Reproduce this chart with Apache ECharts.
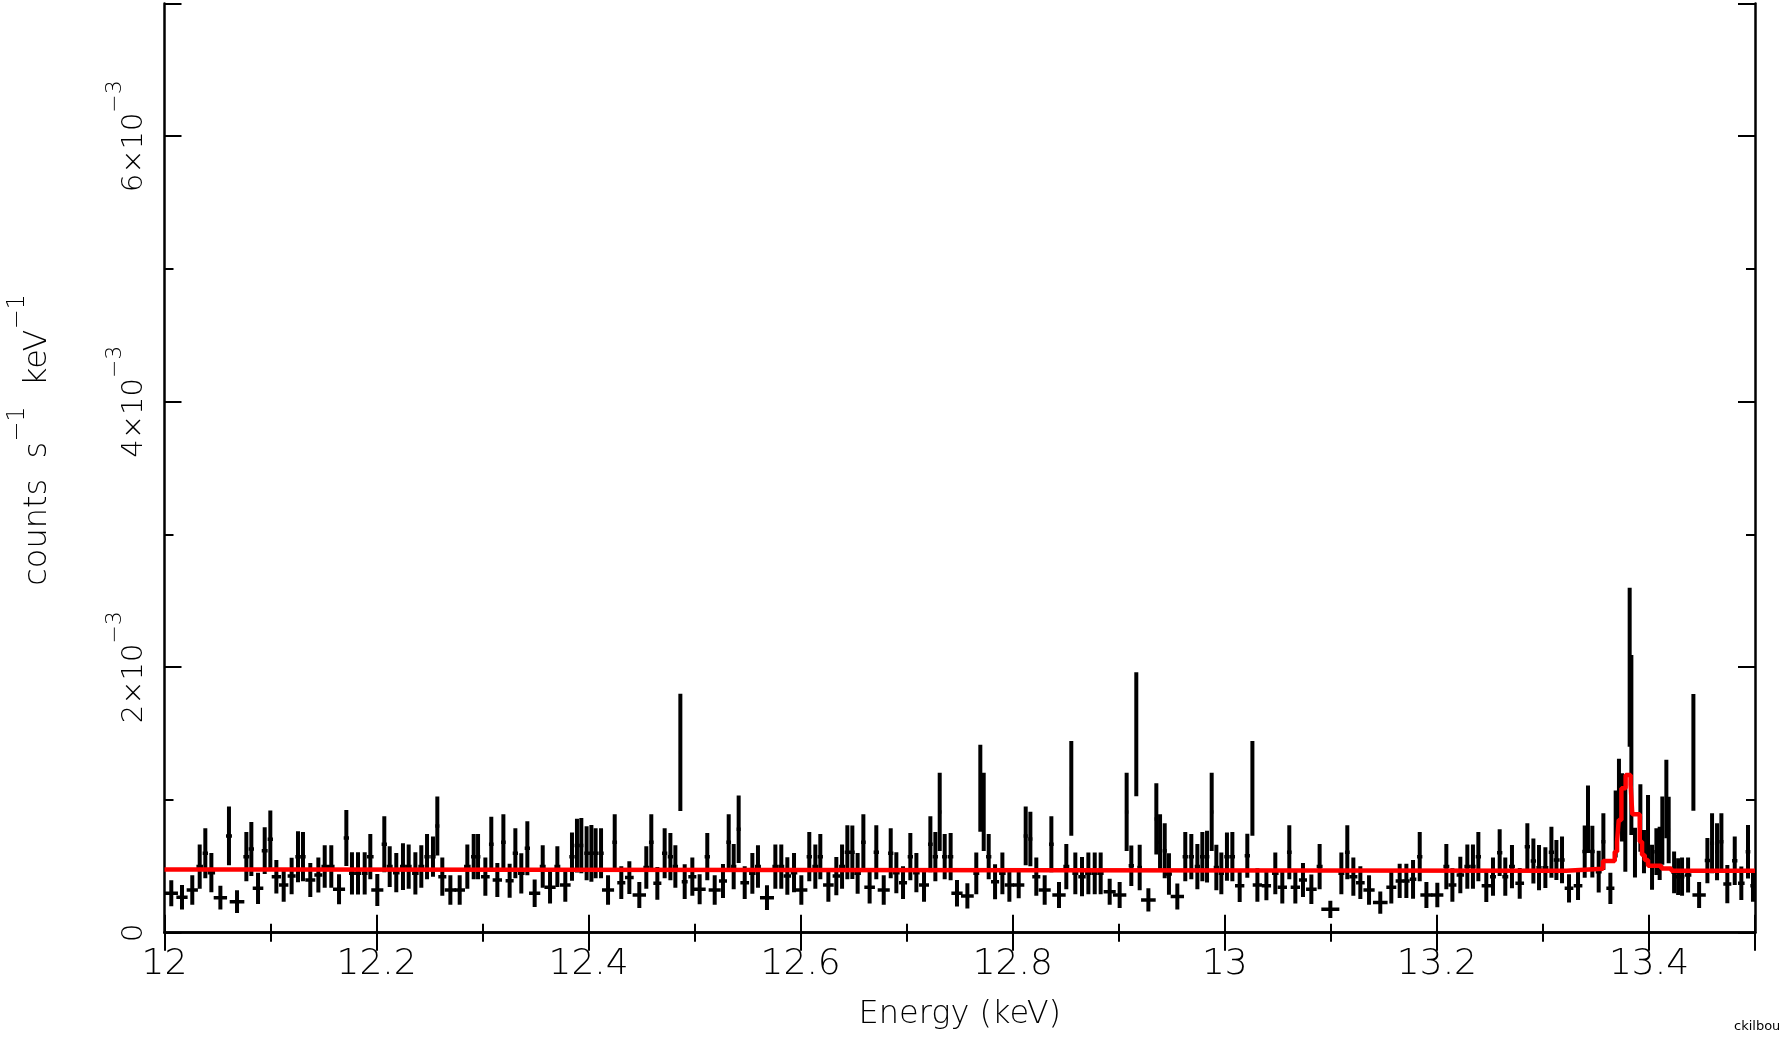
<!DOCTYPE html>
<html>
<head>
<meta charset="utf-8">
<script src="https://cdn.jsdelivr.net/npm/echarts@6/dist/echarts.min.js"></script>
<style>
html, body { margin: 0; padding: 0; background: #fff; }
#spectrum { width: 1779px; height: 1038px; }
</style>
</head>
<body>
<div id="spectrum"></div>
<script>
// grouped spectrum: bin centre (keV), half width (keV), rate and 1-sigma error (units of 1e-3 counts s^-1 keV^-1)
const energy = [
  12.0064, 12.0165, 12.0262, 12.0332, 12.0385, 12.0442, 12.0527, 12.0608, 12.0684, 12.0772,
  12.0819, 12.0882, 12.0945, 12.0998, 12.1055, 12.1124, 12.1199, 12.1259, 12.1306, 12.1375,
  12.1451, 12.1511, 12.1573, 12.1646, 12.1715, 12.1768, 12.1825, 12.1888, 12.1941, 12.2007,
  12.2073, 12.2124, 12.2186, 12.2249, 12.2303, 12.2366, 12.2422, 12.2476,
  12.2532, 12.2573, 12.2620, 12.2696, 12.2784, 12.2856, 12.2916, 12.2957, 12.3026, 12.3082,
  12.3139, 12.3196, 12.3255, 12.3309, 12.3365, 12.3422, 12.3491, 12.3567, 12.3636, 12.3705,
  12.3780, 12.3843, 12.3890, 12.3931, 12.3981, 12.4026, 12.4066, 12.4117, 12.4183, 12.4246,
  12.4308, 12.4384, 12.4478, 12.4544, 12.4591, 12.4648, 12.4717, 12.4771, 12.4818, 12.4865,
  12.4906, 12.4978,
  12.5047, 12.5119, 12.5189, 12.5267, 12.5321, 12.5368, 12.5415, 12.5472, 12.5544, 12.5597,
  12.5682, 12.5761, 12.5817, 12.5874, 12.5937, 12.6006, 12.6081, 12.6138, 12.6185, 12.6261,
  12.6336, 12.6390, 12.6440, 12.6487, 12.6537, 12.6591, 12.6650, 12.6713, 12.6783, 12.6849,
  12.6902, 12.6965, 12.7034, 12.7091, 12.7163, 12.7223, 12.7270, 12.7311, 12.7358, 12.7414,
  12.7474,
  12.7572, 12.7656, 12.7694, 12.7726, 12.7773, 12.7833, 12.7902, 12.7968, 12.8056, 12.8122,
  12.8166, 12.8222, 12.8301, 12.8364, 12.8436, 12.8505, 12.8552, 12.8590, 12.8653, 12.8713,
  12.8773, 12.8829, 12.8914, 12.9008, 12.9074, 12.9118, 12.9165, 12.9197, 12.9279, 12.9354,
  12.9389, 12.9433, 12.9473, 12.9552, 12.9627, 12.9684, 12.9741, 12.9788, 12.9832, 12.9876,
  12.9920, 12.9967,
  13.0020, 13.0071, 13.0140, 13.0212, 13.0260, 13.0307, 13.0392, 13.0476, 13.0542, 13.0608,
  13.0665, 13.0737, 13.0816, 13.0894, 13.0995, 13.1099, 13.1155, 13.1212, 13.1278, 13.1360,
  13.1466, 13.1570, 13.1649, 13.1712, 13.1775, 13.1838, 13.1901, 13.2004, 13.2089, 13.2146,
  13.2221, 13.2287, 13.2340, 13.2391, 13.2466,
  13.2529, 13.2592, 13.2645, 13.2708, 13.2781, 13.2853, 13.2910, 13.2963, 13.3023, 13.3080,
  13.3127, 13.3180, 13.3246, 13.3331, 13.3394, 13.3425, 13.3466, 13.3526, 13.3570, 13.3636,
  13.3686, 13.3717, 13.3746, 13.3777, 13.3818, 13.3834, 13.3868, 13.3919, 13.3953, 13.3991,
  13.4029, 13.4070, 13.4101, 13.4126, 13.4164, 13.4186, 13.4237, 13.4275, 13.4312, 13.4369,
  13.4419, 13.4473, 13.4551, 13.4595, 13.4642, 13.4683, 13.4739, 13.4809, 13.4871, 13.4934,
  13.4981
];
const halfWidth = [
  .0063, .0053, .0053, .0031, .0025, .0035, .0063, .0028, .0069, .0028,
  .0025, .0050, .0028, .0025, .0044, .0044, .0038, .0025, .0025, .0047,
  .0038, .0031, .0031, .0057, .0025, .0028, .0028, .0028, .0031, .0057,
  .0025, .0028, .0031, .0028, .0028, .0031, .0028, .0025,
  .0025, .0019, .0038, .0053, .0050, .0031, .0025, .0022, .0041, .0022,
  .0044, .0022, .0038, .0025, .0031, .0025, .0053, .0028, .0053, .0028,
  .0050, .0025, .0022, .0019, .0022, .0022, .0022, .0025, .0057, .0022,
  .0038, .0041, .0063, .0028, .0022, .0038, .0025, .0025, .0025, .0013,
  .0028, .0038,
  .0057, .0025, .0057, .0038, .0022, .0025, .0019, .0041, .0031, .0028,
  .0066, .0028, .0028, .0035, .0031, .0057, .0025, .0028, .0025, .0050,
  .0035, .0028, .0025, .0022, .0031, .0022, .0050, .0025, .0057, .0025,
  .0031, .0038, .0025, .0031, .0047, .0022, .0025, .0016, .0025, .0025,
  .0053,
  .0060, .0028, .0010, .0010, .0025, .0038, .0031, .0044, .0053, .0019,
  .0019, .0038, .0057, .0022, .0063, .0028, .0013, .0028, .0035, .0031,
  .0028, .0028, .0057, .0063, .0016, .0025, .0010, .0022, .0069, .0016,
  .0016, .0019, .0028, .0063, .0025, .0025, .0025, .0022, .0022, .0016,
  .0025, .0025,
  .0025, .0025, .0044, .0025, .0013, .0044, .0044, .0031, .0044, .0022,
  .0044, .0038, .0050, .0028, .0085, .0028, .0022, .0038, .0041, .0053,
  .0069, .0047, .0038, .0031, .0031, .0025, .0057, .0057, .0028, .0038,
  .0035, .0028, .0025, .0025, .0044,
  .0028, .0025, .0028, .0028, .0041, .0025, .0025, .0025, .0028, .0025,
  .0025, .0025, .0041, .0041, .0022, .0016, .0022, .0028, .0019, .0038,
  .0016, .0013, .0010, .0013, .0010, .0010, .0016, .0016, .0016, .0016,
  .0019, .0019, .0016, .0013, .0013, .0013, .0025, .0022, .0022, .0031,
  .0013, .0063, .0025, .0019, .0019, .0019, .0038, .0025, .0031, .0022,
  .0025
];
const rate = [
  .297, .267, .322, .498, .598, .452, .264, .729, .234, .573,
  .631, .334, .618, .704, .422, .360, .427, .573, .573, .397,
  .435, .498, .498, .327, .714, .447, .447, .447, .573, .322,
  .666, .498, .452, .498, .498, .447, .498, .573,
  .573, .804, .422, .322, .322, .498, .573, .573, .422, .666,
  .397, .681, .392, .598, .447, .636, .297, .498, .342, .498,
  .360, .573, .656, .656, .598, .598, .598, .598, .322, .681,
  .377, .415, .284, .491, .681, .372, .598, .573, .498, 1.359,
  .384, .422,
  .327, .573, .322, .390, .681, .498, .779, .377, .447, .498,
  .264, .498, .498, .427, .452, .322, .573, .498, .573, .360,
  .427, .498, .606, .606, .447, .681, .342, .606, .322, .598,
  .452, .377, .573, .452, .360, .666, .573, .910, .573, .573,
  .297,
  .277, .447, 1.088, .910, .573, .384, .447, .360, .360, .729,
  .706, .422, .322, .666, .284, .498, 1.088, .447, .422, .447,
  .447, .447, .309, .284, .910, .504, 1.495, .491, .247, .857,
  .681, .618, .442, .272, .573, .573, .498, .573, .573, .910,
  .491, .447,
  .573, .573, .354, .580, 1.088, .360, .354, .447, .342, .606,
  .342, .397, .327, .498, .176, .447, .606, .422, .377, .322,
  .227, .342, .390, .390, .402, .573, .284, .284, .498, .360,
  .435, .498, .498, .573, .354,
  .422, .603, .422, .498, .372, .648, .540, .490, .490, .606,
  .548, .548, .334, .354, .611, .854, .611, .460, .686, .334,
  .819, 1.042, .944, .774, 2.000, 1.414, .603, .864, .610, .774,
  .493, .610, .598, .769, 1.007, .774, .455, .422, .422, .435,
  1.359, .284, .543, .674, .610, .686, .366, .542, .372, .610,
  .353
];
const rateErr = [
  .098, .093, .111, .167, .188, .148, .090, .221, .085, .185,
  .203, .118, .176, .216, .126, .126, .138, .192, .185, .129,
  .132, .160, .160, .113, .211, .160, .160, .160, .170, .121,
  .211, .153, .148, .176, .167, .160, .160, .170,
  .151, .222, .144, .111, .111, .167, .170, .170, .144, .208,
  .129, .211, .128, .188, .151, .203, .103, .160, .122, .153,
  .126, .181, .203, .208, .203, .214, .188, .188, .111, .211,
  .123, .123, .098, .160, .211, .123, .188, .178, .160, .442,
  .131, .144,
  .113, .178, .111, .128, .211, .170, .254, .123, .154, .160,
  .093, .167, .167, .142, .148, .111, .185, .167, .170, .126,
  .144, .167, .203, .201, .154, .211, .122, .203, .111, .188,
  .154, .123, .178, .148, .126, .211, .185, .295, .170, .178,
  .100,
  .095, .157, .327, .295, .170, .132, .157, .126, .100, .221,
  .206, .144, .111, .211, .098, .170, .357, .157, .148, .157,
  .157, .157, .098, .098, .295, .153, .467, .172, .088, .268,
  .211, .207, .157, .098, .185, .170, .170, .185, .195, .295,
  .172, .157,
  .181, .185, .122, .166, .357, .126, .109, .157, .122, .203,
  .122, .128, .111, .170, .065, .157, .203, .144, .123, .111,
  .084, .122, .129, .129, .146, .185, .098, .093, .170, .126,
  .138, .167, .167, .185, .122,
  .144, .176, .144, .163, .116, .176, .170, .170, .154, .192,
  .151, .176, .107, .107, .197, .254, .195, .157, .214, .117,
  .252, .268, .257, .314, .599, .678, .188, .254, .163, .264,
  .170, .176, .201, .257, .295, .251, .157, .138, .144, .132,
  .440, .098, .170, .226, .214, .214, .144, .182, .126, .201,
  .119
];

// folded model, drawn as steps (left edge of each step, same units)
const modelEnergy = [12.0, 12.099, 13.322, 13.339, 13.3567, 13.3677, 13.3699, 13.3715, 13.3740,
  13.3780, 13.3827, 13.3843, 13.3913, 13.3935, 13.3960, 13.3991, 13.4117, 13.4211, 13.5];
const modelRate = [.477, .467, .475, .481, .540, .610, .686, .849, 1.088,
  1.188, 1.113, .892, .686, .585, .548, .505, .483, .4675, .4675];

// labelled ticks
const xTickValues = [12, 12.2, 12.4, 12.6, 12.8, 13, 13.2, 13.4];
const yTickExponents = [0, 2, 4, 6]; // multiples of 1e-3

const UNIT = 1e-3;
const FONT = 'DejaVu Sans';
const chart = echarts.init(document.getElementById('spectrum'));

function errorCross(params, api) {
  var e = api.value(0), hw = api.value(1), r = api.value(2), er = api.value(3);
  var a = api.coord([e - hw, r]);
  var b = api.coord([e + hw, r]);
  var t = api.coord([e, r + er]);
  var d = api.coord([e, r - er]);
  return {
    type: 'group',
    children: [
      { type: 'line', shape: { x1: a[0], y1: a[1], x2: b[0], y2: b[1] }, style: { stroke: '#000', lineWidth: 3.5 } },
      { type: 'line', shape: { x1: t[0], y1: t[1], x2: d[0], y2: d[1] }, style: { stroke: '#000', lineWidth: 4 } }
    ]
  };
}

const frame = { lineStyle: { color: '#000', width: 2.5 } };
const noLabel = { show: false };
const xBase = { type: 'value', min: 12, max: 13.5, splitLine: { show: false } };
const yBase = { type: 'value', min: 0, max: 7 * UNIT, splitLine: { show: false } };

function xLabel(v) {
  for (var i = 0; i < xTickValues.length; i++) {
    if (Math.abs(v - xTickValues[i]) < 1e-6) return String(xTickValues[i]);
  }
  return '';
}
function yLabel(v) {
  var n = Math.round(v / UNIT);
  if (yTickExponents.indexOf(n) < 0) return '';
  return n === 0 ? '{b|0}' : '{b|' + n + '×10}{s|−3}';
}

const option = {
  animation: false,
  backgroundColor: '#fff',
  grid: { left: 164.5, right: 24, top: 3.5, bottom: 105.3 },
  xAxis: [
    Object.assign({}, xBase, {
      position: 'bottom', interval: 0.1,
      axisLine: frame,
      axisTick: { inside: true, length: 9, lineStyle: { color: '#000', width: 2 } },
      axisLabel: { formatter: xLabel, margin: 14, fontSize: 36, fontFamily: FONT, fontWeight: 300, color: '#000' },
      name: 'Energy (keV)', nameLocation: 'middle', nameGap: 66,
      nameTextStyle: { fontSize: 32, fontFamily: FONT, fontWeight: 300, color: '#000' }
    }),
    Object.assign({}, xBase, {
      position: 'bottom', interval: 0.2, axisLine: { show: false },
      axisTick: { inside: true, length: 18, lineStyle: { color: '#000', width: 2 } }, axisLabel: noLabel
    }),
    Object.assign({}, xBase, {
      position: 'top', interval: 0.1, axisLine: frame,
      axisTick: { inside: true, length: 9, lineStyle: { color: '#000', width: 2 } }, axisLabel: noLabel
    }),
    Object.assign({}, xBase, {
      position: 'top', interval: 0.2, axisLine: { show: false },
      axisTick: { inside: true, length: 18, lineStyle: { color: '#000', width: 2 } }, axisLabel: noLabel
    })
  ],
  yAxis: [
    Object.assign({}, yBase, {
      position: 'left', interval: UNIT, axisLine: frame,
      axisTick: { inside: true, length: 9, lineStyle: { color: '#000', width: 2 } },
      axisLabel: {
        formatter: yLabel, rotate: 90, margin: 16, color: '#000',
        rich: {
          b: { fontSize: 29, fontFamily: FONT, fontWeight: 300, lineHeight: 44, verticalAlign: 'bottom', color: '#000' },
          s: { fontSize: 22, fontFamily: FONT, fontWeight: 300, lineHeight: 20, verticalAlign: 'top', color: '#000' }
        }
      }
    }),
    Object.assign({}, yBase, {
      position: 'left', interval: 2 * UNIT, axisLine: { show: false },
      axisTick: { inside: true, length: 17, lineStyle: { color: '#000', width: 2 } }, axisLabel: noLabel
    }),
    Object.assign({}, yBase, {
      position: 'right', interval: UNIT, axisLine: frame,
      axisTick: { inside: true, length: 9, lineStyle: { color: '#000', width: 2 } }, axisLabel: noLabel
    }),
    Object.assign({}, yBase, {
      position: 'right', interval: 2 * UNIT, axisLine: { show: false },
      axisTick: { inside: true, length: 17, lineStyle: { color: '#000', width: 2 } }, axisLabel: noLabel
    })
  ],
  series: [
    {
      type: 'custom',
      name: 'data',
      xAxisIndex: 0, yAxisIndex: 0,
      clip: true,
      renderItem: errorCross,
      encode: { x: 0, y: 2 },
      data: energy.map(function (e, i) { return [e, halfWidth[i], rate[i] * UNIT, rateErr[i] * UNIT]; }),
      z: 2
    },
    {
      type: 'line',
      name: 'model',
      xAxisIndex: 0, yAxisIndex: 0,
      step: 'end',
      symbol: 'none',
      lineStyle: { color: '#ff0000', width: 4.5 },
      data: modelEnergy.map(function (e, i) { return [e, modelRate[i] * UNIT]; }),
      z: 3
    }
  ],
  graphic: [
    {
      type: 'text',
      x: 30, y: 440,
      rotation: Math.PI / 2,
      style: {
        text: '{b|counts  s}{s|−1}{b|  keV}{s|−1}',
        align: 'center', verticalAlign: 'middle',
        rich: {
          b: { fontSize: 32, fontFamily: FONT, fontWeight: 300, lineHeight: 48, verticalAlign: 'bottom', fill: '#000' },
          s: { fontSize: 24, fontFamily: FONT, fontWeight: 300, lineHeight: 20, verticalAlign: 'top', fill: '#000' }
        }
      }
    },
    {
      type: 'text',
      left: 1734, top: 1020,
      style: { text: 'ckilbou', fontSize: 13, fontFamily: FONT, fill: '#000' }
    }
  ]
};

chart.setOption(option);
</script>
</body>
</html>
